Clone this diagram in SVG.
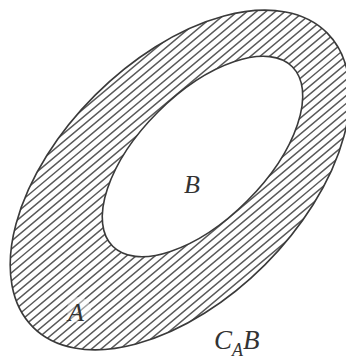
<svg xmlns="http://www.w3.org/2000/svg" width="346" height="360" viewBox="0 0 346 360">
  <style>
    .edge { fill: none; stroke: #3a3a3a; stroke-width: 1.6; }
    .lbl { font-family: "Liberation Serif", "DejaVu Serif", serif; font-style: italic; fill: #333; }
  </style>
  <defs>
    <clipPath id="outerClip">
      <ellipse cx="180" cy="180" rx="208" ry="120" transform="rotate(-45 180 180)"/>
    </clipPath>
  </defs>
  <rect width="346" height="360" fill="#fff"/>
  <g id="A">
    <g clip-path="url(#outerClip)">
      <line x1="-13" y1="-50" x2="373" y2="410" stroke="#5a5a5a" stroke-width="800" stroke-dasharray="1.5 4.6"/>
    </g>
    <ellipse cx="79" cy="310" rx="12" ry="13" fill="#fff" opacity="0.45"/>
    <ellipse class="edge" cx="180" cy="180" rx="208" ry="120" transform="rotate(-45 180 180)"/>
    <text class="lbl" x="68" y="321" font-size="26">A</text>
  </g>
  <g id="B">
    <ellipse cx="202.5" cy="156.5" rx="127" ry="63" transform="rotate(-45 202.5 156.5)" fill="#fff" stroke="#3a3a3a" stroke-width="1.6"/>
    <text class="lbl" x="184" y="193" font-size="26">B</text>
  </g>
  <g id="CAB">
    <text class="lbl" x="214" y="349" font-size="27">C<tspan font-size="18" dy="7">A</tspan><tspan dy="-7">B</tspan></text>
  </g>
</svg>
